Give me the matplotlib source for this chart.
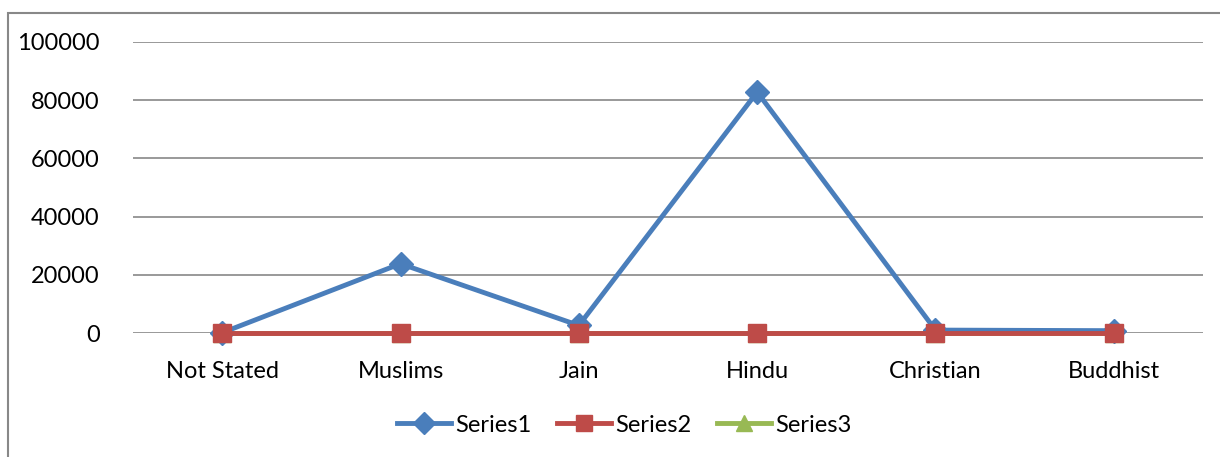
import matplotlib
matplotlib.use("Agg")
import matplotlib.pyplot as plt
from matplotlib.patches import Rectangle
from matplotlib.lines import Line2D

categories = ["Not Stated", "Muslims", "Jain", "Hindu", "Christian", "Buddhist"]
series1 = [100, 23800, 2600, 82800, 1000, 800]
series2 = [0, 0, 0, 0, 0, 0]
series3 = [0, 0, 0, 0, 0, 0]
yticks = [0, 20000, 40000, 60000, 80000, 100000]

plt.rcParams['font.family'] = ['Lato', 'DejaVu Sans']

W, H = 1220, 457
fig = plt.figure(figsize=(W / 100, H / 100), dpi=100)
ax = fig.add_axes([133 / W, 1 - 333 / H, (1203 - 133) / W, (333 - 42) / H])

x = list(range(len(categories)))
c1, c2, c3 = "#4A7EBB", "#BE4B48", "#98B954"
lw = 3.5
ax.plot(x, series3, color=c3, lw=lw, marker="^", ms=13, zorder=3, clip_on=False)
ax.plot(x, series1, color=c1, lw=lw, marker="D", ms=12, zorder=4, clip_on=False)
ax.plot(x, series2, color=c2, lw=lw, marker="s", ms=13.5, zorder=5, clip_on=False)

ax.set_xlim(-0.5, len(categories) - 0.5)
ax.set_ylim(0, 100000)
ax.set_yticks(yticks)
ax.set_yticklabels([str(v) for v in yticks])
ax.set_xticks(x)
ax.set_xticklabels(categories)
ax.tick_params(axis='both', length=0, labelsize=17, colors="black")
ax.tick_params(axis='y', pad=24)
ax.tick_params(axis='x', pad=20)
for s in ax.spines.values():
    s.set_visible(False)
ax.grid(axis='y', color="#888888", lw=1.2)
ax.set_axisbelow(True)

handles = [
    Line2D([], [], color=c1, lw=lw, marker="D", ms=11),
    Line2D([], [], color=c2, lw=lw, marker="s", ms=12),
    Line2D([], [], color=c3, lw=lw, marker="^", ms=12),
]
fig.legend(handles, ["Series1", "Series2", "Series3"], loc="center",
           bbox_to_anchor=(624 / W, 1 - 425 / H), ncol=3, frameon=False,
           fontsize=17, handlelength=2.3, handletextpad=0.15, columnspacing=1.1)

fig.patches.append(Rectangle((8 / W, -0.1), 1.2, 1 - 13 / H + 0.1,
                             transform=fig.transFigure, fill=False,
                             edgecolor="#888888", lw=1.5))

fig.savefig("out.png", dpi=100)
